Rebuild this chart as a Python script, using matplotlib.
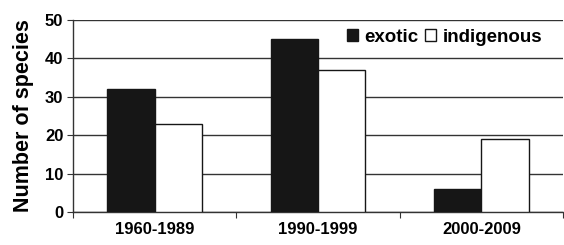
import numpy as np
import matplotlib
matplotlib.use("Agg")
import matplotlib.pyplot as plt
from matplotlib.patches import Patch

plt.rcParams["font.family"] = ["Liberation Sans", "DejaVu Sans"]
plt.rcParams["font.weight"] = "bold"

# --- data
periods = ["1960-1989", "1990-1999", "2000-2009"]
exotic = [32, 45, 6]
indigenous = [23, 37, 19]

fig = plt.figure(figsize=(5.64, 2.45), dpi=100)
ax = fig.add_axes([0.1294, 0.1347, 0.869, 0.7837])

x = np.arange(len(periods)) + 0.5
w = 0.29
ax.bar(x - w / 2, exotic, w, color="#161616", edgecolor="#161616", lw=1, zorder=3, label="exotic")
ax.bar(x + w / 2, indigenous, w, color="white", edgecolor="#161616", lw=1, zorder=3, label="indigenous")

ax.set_xlim(0, 3)
ax.set_ylim(0, 50)
ax.set_yticks(range(0, 51, 10))
ax.yaxis.grid(True, color="#333333", lw=1)
ax.set_axisbelow(True)

ax.set_xticks([0, 1, 2, 3])
ax.set_xticklabels([])
ax.set_xticks(x, minor=True)
ax.set_xticklabels(periods, minor=True, fontsize=12, fontweight="bold")
ax.tick_params(axis="x", which="minor", length=0, pad=7)
ax.tick_params(axis="x", which="major", length=4, direction="out", color="#333333")
ax.tick_params(axis="y", length=4, labelsize=12, color="#333333", pad=3)

for s in ["top", "right"]:
    ax.spines[s].set_visible(False)
for s in ["left", "bottom"]:
    ax.spines[s].set_color("#333333")
    ax.spines[s].set_linewidth(1)

ax.set_ylabel("Number of species", fontsize=15.5, fontweight="bold", labelpad=8)

handles = [Patch(facecolor="#161616", edgecolor="#161616", label="exotic"),
           Patch(facecolor="white", edgecolor="#161616", label="indigenous")]
leg = ax.legend(handles=handles, loc="center right", bbox_to_anchor=(0.962, 0.91), ncol=2,
                frameon=True, fontsize=13.5, handlelength=0.58, handleheight=0.58,
                handletextpad=0.37, columnspacing=0.35, borderpad=0.1, borderaxespad=0)
leg.get_frame().set_edgecolor("none")
leg.get_frame().set_facecolor("white")
leg.get_frame().set_alpha(1)
leg.set_zorder(5)

fig.savefig("out.png", dpi=100)
